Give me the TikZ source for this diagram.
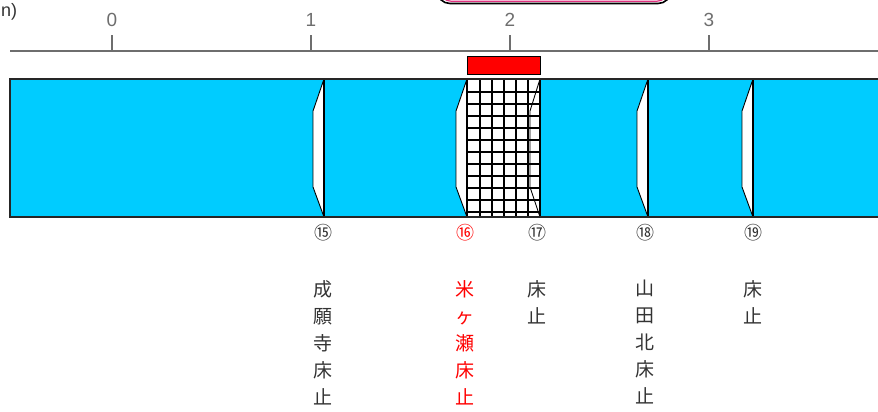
\documentclass[tikz,border=0pt]{standalone}
\usepackage{fontspec}
\setmainfont{Liberation Sans}
\newfontfamily\cjk{Noto Sans CJK JP}
\definecolor{river}{HTML}{00CCFF}
\definecolor{txtgray}{HTML}{333333}
\definecolor{axisgray}{HTML}{6E6E6E}
\definecolor{boxpink}{HTML}{E0307F}
\tikzset{
  weir/.style={fill=white, draw=black, line width=0.9pt, line join=round},
  weirline/.style={draw=black, line width=1.6pt},
  ticklbl/.style={text=axisgray, font=\fontsize{19}{19}\selectfont, inner sep=0pt},
  cnum/.style={text=txtgray, font=\cjk\fontsize{18}{18}\selectfont, inner sep=0pt},
  vlabel/.style={text=txtgray, font=\cjk\fontsize{19}{27}\selectfont, align=center, anchor=north, inner sep=0pt},
}
\begin{document}
\begin{tikzpicture}[x=1pt,y=-1pt]
\useasboundingbox (0,0) rectangle (878,412);
\clip (0,0) rectangle (878,412);
% top box (partially visible)
\draw[line width=1.6pt, fill=white, rounded corners=13pt] (437,-40) rectangle (671,3.5);
\draw[boxpink, line width=1.2pt, rounded corners=11pt] (440,-40) rectangle (668,1.2);
% axis
\coordinate (axL) at (10,51);
\coordinate (axR) at (878,51);
\draw[axisgray, line width=1.5pt] (axL) -- (axR);
\foreach \v/\x in {0/112,1/311,2/510,3/709}{
  \coordinate (t\v) at (\x,51);
  \coordinate (tt\v) at (\x,35);
  \draw[axisgray, line width=1.5pt] (t\v) -- (tt\v);
  \node[ticklbl] (lbl\v) at (\x,20) {\v};
}
\node[text=txtgray, font=\fontsize{18}{18}\selectfont, inner sep=0pt, anchor=west] (unit) at (1,12) {n)};
% red section marker
\node[draw=black, line width=0.6pt, fill=red, minimum width=73pt, minimum height=18pt, inner sep=0pt] (mark) at (503.5,65) {};
% river band
\path[fill=river] (10,79) rectangle (890,217);
% grid section
\fill[white] (467,79) rectangle (540,217);
\begin{scope}
\clip (467,79) rectangle (540,217);
\foreach \gx in {480,492,504,516,528}{\draw[black, line width=1.1pt] (\gx,79) -- (\gx,217);}
\foreach \gy in {92,104,116,128,140,152,164,176,188,200,212}{\draw[black, line width=1.1pt] (467,\gy) -- (540,\gy);}
\end{scope}
% weirs
\foreach \n/\xr in {15/324,16/467,18/648,19/753}{
  \filldraw[weir] (\xr,79) -- (\xr-11,111) -- (\xr-11,187) -- (\xr,217) -- cycle;
  \draw[weirline] (\xr,79) -- (\xr,217);
}
\draw[black, line width=0.9pt] (540,79) -- (530,111) -- (530,187) -- (540,217);
\draw[weirline] (540,79) -- (540,217);
\draw[black!85, line width=1.6pt] (890,79) -- (10,79) -- (10,217) -- (890,217);
% circled numbers
\node[cnum] (c15) at (323,233) {⑮};
\node[cnum, text=red] (c16) at (465,233) {⑯};
\node[cnum] (c17) at (537,233) {⑰};
\node[cnum] (c18) at (645,233) {⑱};
\node[cnum] (c19) at (753,233) {⑲};
% labels
\node[vlabel] (n15) at (323,280) {成\\願\\寺\\床\\止};
\node[vlabel, text=red] (n16) at (465,280) {米\\ヶ\\瀬\\床\\止};
\node[vlabel] (n17) at (537,280) {床\\止};
\node[vlabel] (n18) at (645,280) {山\\田\\北\\床\\止};
\node[vlabel] (n19) at (753,280) {床\\止};
\end{tikzpicture}
\end{document}
